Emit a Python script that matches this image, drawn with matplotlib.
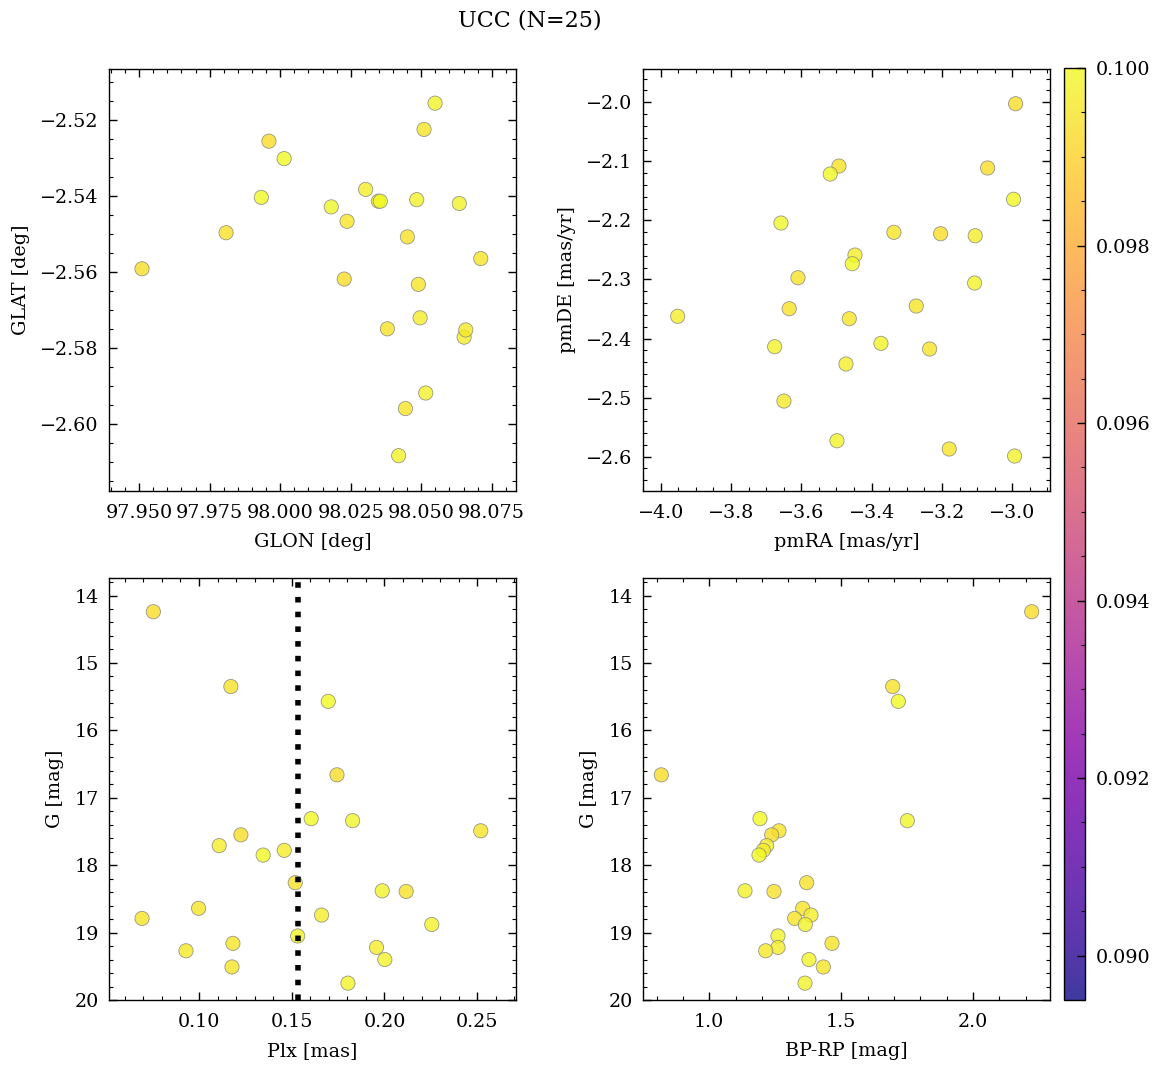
import matplotlib
matplotlib.use("Agg")
import matplotlib.pyplot as plt
from matplotlib.ticker import AutoMinorLocator, MultipleLocator, FuncFormatter
import numpy as np

# ---- data ----
glon = [97.9510, 97.9808, 97.9933, 97.9960, 98.0014, 98.0181, 98.0237, 98.0227,
        98.0303, 98.0348, 98.0355, 98.0380, 98.0484, 98.0451, 98.0490, 98.0496,
        98.0510, 98.0549, 98.0635, 98.0711, 98.0652, 98.0658, 98.0516, 98.0444, 98.0420]
glat = [-2.5591, -2.5496, -2.5403, -2.5255, -2.5301, -2.5428, -2.5466, -2.5618,
        -2.5382, -2.5413, -2.5413, -2.5749, -2.5409, -2.5507, -2.5632, -2.5720,
        -2.5224, -2.5155, -2.5419, -2.5564, -2.5771, -2.5752, -2.5918, -2.5959, -2.6083]
pmra = [-2.9906, -3.4930, -3.5178, -3.0703, -2.9963, -3.6580, -3.3367, -3.2039,
        -3.1055, -3.4475, -3.4552, -3.6096, -3.1072, -3.6344, -3.2732, -3.9517,
        -3.4637, -3.3736, -3.6759, -3.2352, -3.4731, -3.6494, -3.4987, -3.1794, -2.9935]
pmde = [-2.0024, -2.1079, -2.1214, -2.1112, -2.1642, -2.2044, -2.2201, -2.2225,
        -2.2259, -2.2586, -2.2733, -2.2970, -2.3060, -2.3495, -2.3449, -2.3623,
        -2.3664, -2.4081, -2.4138, -2.4177, -2.4431, -2.5058, -2.5730, -2.5870, -2.5989]
gmag = [14.24, 15.35, 15.57, 16.66, 17.31, 17.34, 17.49, 17.55, 17.71, 17.78,
        17.85, 18.26, 18.38, 18.39, 18.64, 18.74, 18.79, 18.88, 19.05, 19.16,
        19.22, 19.27, 19.40, 19.51, 19.75]
plx = [0.0754, 0.1172, 0.1697, 0.1744, 0.1605, 0.1828, 0.2519, 0.1226, 0.1109, 0.1460,
       0.1346, 0.1519, 0.1988, 0.2117, 0.0998, 0.1661, 0.0693, 0.2255, 0.1532, 0.1183,
       0.1957, 0.0930, 0.2002, 0.1178, 0.1803]
bprp = [2.2226, 1.6955, 1.7167, 0.8180, 1.1923, 1.7509, 1.2643, 1.2366, 1.2177, 1.2048,
        1.1885, 1.3693, 1.1354, 1.2454, 1.3542, 1.3857, 1.3238, 1.3641, 1.2605, 1.4653,
        1.2605, 1.2139, 1.3780, 1.4323, 1.3629]
prob = [0.0993, 0.0994, 0.1000, 0.0993, 0.1000, 0.0999, 0.0995, 0.0993, 0.0997, 0.0997,
        0.1000, 0.0994, 0.0998, 0.0994, 0.0995, 0.0997, 0.0995, 0.0998, 0.0998, 0.0995,
        0.0997, 0.0996, 0.0998, 0.0995, 0.0998]
plx_median = 0.1532
title = "UCC (N=25)"

plt.rcParams.update({
    "font.family": ["DejaVu Serif"],
    "font.size": 13.8,
    "xtick.direction": "in", "ytick.direction": "in",
    "xtick.top": True, "ytick.right": True,
    "xtick.minor.visible": True, "ytick.minor.visible": True,
    "xtick.major.size": 6, "ytick.major.size": 6,
    "xtick.minor.size": 3, "ytick.minor.size": 3,
    "xtick.major.width": 1.0, "ytick.major.width": 1.0,
    "xtick.minor.width": 0.8, "ytick.minor.width": 0.8,
    "xtick.major.pad": 9.5, "ytick.major.pad": 7.5,
    "axes.linewidth": 1.0,
    "axes.labelpad": 7.5,
})

W, H = 1161, 1068
fig = plt.figure(figsize=(W / 100, H / 100), dpi=100)

def ax_at(x0, y0, x1, y1):
    return fig.add_axes([x0 / W, 1 - y1 / H, (x1 - x0) / W, (y1 - y0) / H])

def fmt(nd):
    return FuncFormatter(lambda v, p: f"{v:.{nd}f}".replace("-", "\u2212"))

ax1 = ax_at(109, 69, 516, 491)
ax2 = ax_at(643, 69, 1050, 491)
ax3 = ax_at(109, 578, 516, 1000)
ax4 = ax_at(643, 578, 1050, 1000)
cax = ax_at(1064, 68, 1085, 1000)

vmin, vmax = 0.0895, 0.100
kw = dict(c=prob, cmap="plasma", vmin=vmin, vmax=vmax, s=105, alpha=0.8,
          edgecolors="grey", linewidths=0.6, zorder=3)

sc = ax1.scatter(glon, glat, **kw)
ax1.set_xlim(97.9393, 98.0836)
ax1.set_ylim(-2.6176, -2.5065)
ax1.xaxis.set_major_locator(MultipleLocator(0.025))
ax1.xaxis.set_major_formatter(fmt(3))
ax1.yaxis.set_major_locator(MultipleLocator(0.02))
ax1.yaxis.set_major_formatter(fmt(2))
ax1.set_xlabel("GLON [deg]")
ax1.set_ylabel("GLAT [deg]")

ax2.scatter(pmra, pmde, **kw)
ax2.set_xlim(-4.0503, -2.8928)
ax2.set_ylim(-2.6581, -1.9436)
ax2.xaxis.set_major_locator(MultipleLocator(0.2))
ax2.xaxis.set_major_formatter(fmt(1))
ax2.yaxis.set_major_locator(MultipleLocator(0.1))
ax2.yaxis.set_major_formatter(fmt(1))
ax2.set_xlabel("pmRA [mas/yr]")
ax2.set_ylabel("pmDE [mas/yr]")

ax3.scatter(plx, gmag, **kw)
ax3.axvline(plx_median, color="k", ls=":", lw=4, zorder=4)
ax3.set_xlim(0.0515, 0.2709)
ax3.set_ylim(20, 13.74)
ax3.xaxis.set_major_locator(MultipleLocator(0.05))
ax3.xaxis.set_major_formatter(fmt(2))
ax3.yaxis.set_major_locator(MultipleLocator(1))
ax3.yaxis.set_major_formatter(fmt(0))
ax3.set_xlabel("Plx [mas]")
ax3.set_ylabel("G [mag]")

ax4.scatter(bprp, gmag, **kw)
ax4.set_xlim(0.7486, 2.292)
ax4.set_ylim(20, 13.74)
ax4.xaxis.set_major_locator(MultipleLocator(0.5))
ax4.xaxis.set_major_formatter(fmt(1))
ax4.yaxis.set_major_locator(MultipleLocator(1))
ax4.yaxis.set_major_formatter(fmt(0))
ax4.set_xlabel("BP-RP [mag]")
ax4.set_ylabel("G [mag]")

for ax in (ax1, ax2, ax3, ax4):
    ax.xaxis.set_minor_locator(AutoMinorLocator())
    ax.yaxis.set_minor_locator(AutoMinorLocator())

cb = fig.colorbar(sc, cax=cax)
cb.set_ticks([0.090, 0.092, 0.094, 0.096, 0.098, 0.100])
cb.ax.yaxis.set_major_formatter(fmt(3))
cb.ax.yaxis.set_minor_locator(AutoMinorLocator())
cb.ax.tick_params(which="both", direction="in", left=False, right=True)
cb.ax.tick_params(which="major", pad=8)
cb.outline.set_linewidth(1.0)

fig.text(529.5 / W, 1 - 20 / H, title, ha="center", va="center", fontsize=16)

fig.savefig("out.png", dpi=100)
